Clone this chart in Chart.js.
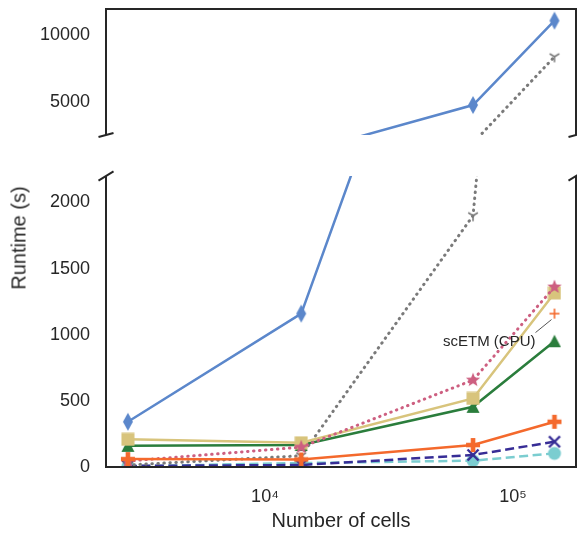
<!DOCTYPE html>
<html>
<head>
<meta charset="utf-8">
<script src="https://cdn.jsdelivr.net/npm/chart.js@4.4.1/dist/chart.umd.min.js"></script>
<style>
  html, body { margin: 0; padding: 0; background: #fff; }
  #wrap { position: relative; width: 577px; height: 533px; overflow: hidden; font-family: 'Liberation Sans', Arial, sans-serif; }
  #upper { position: absolute; left: 0; top: 0; width: 577px; height: 140px; }
  #lower { position: absolute; left: 0; top: 140px; width: 577px; height: 393px; }
  #ytitle { position: absolute; left: 19px; top: 238px; transform: translate(-50%, -50%) rotate(-90deg); font-size: 20px; color: #262626; white-space: nowrap; }
</style>
</head>
<body>
<div id="wrap">
  <canvas id="lower" width="577" height="393"></canvas>
  <canvas id="upper" width="577" height="140"></canvas>
  <div id="ytitle">Runtime (s)</div>
</div>
<script>
/* ── data ── */
const cellCounts   = [2800, 14000, 69000, 147000];
const blueDiamond  = [342, 1160, 4760, 11120];
const grayTri      = [15, 85, 1900, 8400];
const khakiSquare  = [209, 183, 518, 1316];
const greenTri     = [160, 166, 455, 951];
const pinkStar     = [45, 150, 657, 1361];
const orangePlus   = [60, 57, 166, 342];
const indigoX      = [8, 15, 91, 191];
const cyanCircle   = [5, 30, 48, 103];
const cpuValues    = [null, null, null, 1160];
const cpuLabel     = 'scETM (CPU)';

const upperTicks   = [5000, 10000];
const lowerTicks   = [0, 500, 1000, 1500, 2000];
const xTicks       = [10000, 100000];
const xTickLabels  = ['10⁴', '10⁵'];

const FONT = "'Liberation Sans', Arial, sans-serif";
const INK  = '#262626';
const X_MIN = 2285, X_MAX = 179500;

/* ── marker images ── */
function marker(size, paint) {
  const c = document.createElement('canvas');
  c.width = c.height = size;
  const ctx = c.getContext('2d');
  ctx.translate(size / 2, size / 2);
  paint(ctx);
  return c;
}
function poly(ctx, pts, color) {
  ctx.beginPath();
  pts.forEach(([x, y], i) => i ? ctx.lineTo(x, y) : ctx.moveTo(x, y));
  ctx.closePath();
  ctx.fillStyle = color;
  ctx.fill();
}
function strokes(ctx, segs, color, w) {
  ctx.strokeStyle = color; ctx.lineWidth = w;
  segs.forEach(([x1, y1, x2, y2]) => { ctx.beginPath(); ctx.moveTo(x1, y1); ctx.lineTo(x2, y2); ctx.stroke(); });
}

const C = {
  blue: '#5b87cb', gray: '#7a7a7a', khaki: '#d8c47c', green: '#2a7d3c',
  pink: '#cd5f80', orange: '#f4692c', indigo: '#372d96', cyan: '#7bcdd0'
};

const M = {
  diamond: marker(20, ctx => poly(ctx, [[0, -9], [5, 0], [0, 9], [-5, 0]], C.blue)),
  square: marker(14, ctx => { ctx.fillStyle = C.khaki; ctx.fillRect(-6.5, -6.5, 13, 13); }),
  triangle: marker(14, ctx => poly(ctx, [[0, -6.5], [6.5, 6], [-6.5, 6]], C.green)),
  star: marker(16, ctx => {
    const pts = [];
    for (let i = 0; i < 10; i++) {
      const r = i % 2 ? 3.2 : 7.5, a = -Math.PI / 2 + i * Math.PI / 5;
      pts.push([r * Math.cos(a), r * Math.sin(a)]);
    }
    poly(ctx, pts, C.pink);
  }),
  plusFilled: marker(16, ctx => poly(ctx, [[-2.3, -7], [2.3, -7], [2.3, -2.3], [7, -2.3], [7, 2.3], [2.3, 2.3], [2.3, 7],
    [-2.3, 7], [-2.3, 2.3], [-7, 2.3], [-7, -2.3], [-2.3, -2.3]], C.orange)),
  cross: marker(16, ctx => strokes(ctx, [[-5.5, -5.5, 5.5, 5.5], [-5.5, 5.5, 5.5, -5.5]], C.indigo, 2.4)),
  circle: marker(16, ctx => { ctx.beginPath(); ctx.arc(0, 0, 6.5, 0, Math.PI * 2); ctx.fillStyle = C.cyan; ctx.fill(); }),
  triDown: marker(14, ctx => strokes(ctx, [[0, 0, 0, 5.5], [0, 0, -4.8, -3], [0, 0, 4.8, -3]], C.gray, 1.6)),
  plusThin: marker(14, ctx => strokes(ctx, [[-5, 0, 5, 0], [0, -5, 0, 5]], C.orange, 1.6))
};

const DOTTED = [0.5, 5.5];
const DASHED = [9, 4.5];

function series(label, values, color, style, dash, showLine) {
  const dotted = dash === DOTTED;
  return {
    label,
    data: cellCounts.map((x, i) => ({ x, y: values[i] })),
    borderColor: color,
    backgroundColor: color,
    borderWidth: dotted ? 3 : 2.5,
    borderDash: dash || [],
    borderCapStyle: dotted ? 'round' : 'butt',
    pointStyle: style,
    pointRadius: 7,
    showLine: showLine !== false,
    tension: 0,
    clip: 0
  };
}

function buildDatasets() {
  // first entry is drawn on top
  return [
    series('orange', orangePlus, C.orange, M.plusFilled),
    series(cpuLabel, cpuValues, C.orange, M.plusThin, null, false),
    series('pink', pinkStar, C.pink, M.star, DOTTED),
    series('khaki', khakiSquare, C.khaki, M.square),
    series('green', greenTri, C.green, M.triangle),
    series('gray', grayTri, C.gray, M.triDown, DOTTED),
    series('indigo', indigoX, C.indigo, M.cross, DASHED),
    series('cyan', cyanCircle, C.cyan, M.circle, DASHED),
    series('blue', blueDiamond, C.blue, M.diamond)
  ];
}

/* ── spines + break marks ── */
const frame = {
  id: 'frame',
  afterDraw(chart, args, opts) {
    const { ctx, chartArea: a } = chart;
    ctx.save();
    ctx.strokeStyle = INK; ctx.lineWidth = 2;
    ctx.beginPath();
    if (opts.part === 'upper') {
      ctx.moveTo(a.left, a.bottom); ctx.lineTo(a.left, a.top); ctx.lineTo(a.right, a.top); ctx.lineTo(a.right, a.bottom);
    } else {
      ctx.moveTo(a.left, a.top); ctx.lineTo(a.left, a.bottom); ctx.lineTo(a.right, a.bottom); ctx.lineTo(a.right, a.top);
    }
    ctx.stroke();
    const dx = 0.016 * (a.right - a.left), dy = 0.016 * (a.bottom - a.top);
    const y = opts.part === 'upper' ? a.bottom : a.top;
    [a.left, a.right].forEach(x => {
      ctx.beginPath(); ctx.moveTo(x - dx, y + dy); ctx.lineTo(x + dx, y - dy); ctx.stroke();
    });
    ctx.restore();
  }
};

/* ── scETM (CPU) note ── */
const cpuNote = {
  id: 'cpuNote',
  afterDatasetsDraw(chart) {
    const { ctx, scales } = chart;
    const i = cpuValues.findIndex(v => v !== null);
    const px = scales.x.getPixelForValue(cellCounts[i]);
    const py = scales.y.getPixelForValue(cpuValues[i]);
    ctx.save();
    ctx.strokeStyle = '#555'; ctx.lineWidth = 1;
    ctx.beginPath(); ctx.moveTo(px - 3, py + 6); ctx.lineTo(px - 19, py + 19); ctx.stroke();
    ctx.fillStyle = INK;
    ctx.font = `15px ${FONT}`;
    ctx.textAlign = 'right'; ctx.textBaseline = 'middle';
    ctx.fillText(cpuLabel, px - 19, py + 28);
    ctx.restore();
  }
};

function yScale(min, max, ticks) {
  return {
    min, max,
    afterFit: s => { s.width = 106; s.paddingTop = 0; s.paddingBottom = 0; },
    afterBuildTicks: s => { s.ticks = ticks.map(v => ({ value: v })); },
    grid: { display: false, drawTicks: false },
    border: { display: false },
    ticks: { padding: 16, color: INK, font: { family: FONT, size: 18 }, callback: v => String(v) }
  };
}

const common = {
  responsive: false,
  animation: false,
  events: [],
  plugins: { legend: { display: false }, tooltip: { enabled: false } }
};

new Chart(document.getElementById('upper'), {
  type: 'line',
  data: { datasets: buildDatasets() },
  options: {
    ...common,
    layout: { autoPadding: false, padding: { top: 9, right: 1, bottom: 5, left: 0 } },
    plugins: { ...common.plugins, frame: { part: 'upper' } },
    scales: {
      x: { type: 'logarithmic', min: X_MIN, max: X_MAX, display: false },
      y: yScale(2500, 12000, upperTicks)
    }
  },
  plugins: [frame]
});

new Chart(document.getElementById('lower'), {
  type: 'line',
  data: { datasets: buildDatasets() },
  options: {
    ...common,
    layout: { autoPadding: false, padding: { top: 36, right: 1, bottom: 0, left: 0 } },
    plugins: { ...common.plugins, frame: { part: 'lower' } },
    scales: {
      x: {
        type: 'logarithmic', min: X_MIN, max: X_MAX,
        afterFit: s => { s.height = 66; s.paddingLeft = 0; s.paddingRight = 0; },
        afterBuildTicks: s => { s.ticks = xTicks.map(v => ({ value: v })); },
        grid: { display: false, drawTicks: false },
        border: { display: false },
        ticks: {
          padding: 19, autoSkip: false, maxRotation: 0, color: INK,
          font: { family: FONT, size: 18 },
          callback: (v, i) => xTickLabels[i]
        },
        title: { display: true, text: 'Number of cells', color: INK, font: { family: FONT, size: 20 }, padding: { top: 0, bottom: 0 } }
      },
      y: yScale(0, 2200, lowerTicks)
    }
  },
  plugins: [frame, cpuNote]
});
</script>
</body>
</html>
